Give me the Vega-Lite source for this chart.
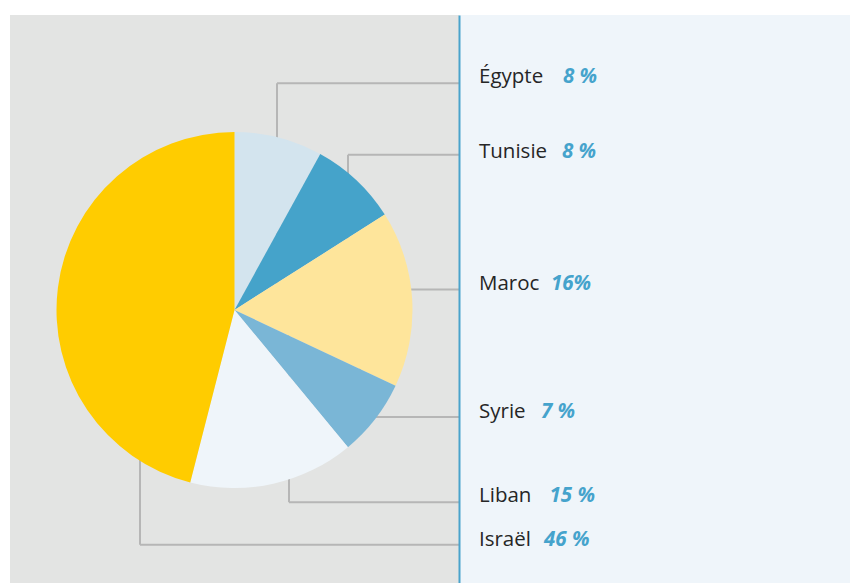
{
  "$schema": "https://vega.github.io/schema/vega-lite/v6.json",
  "background": "#ffffff",
  "padding": {"left": 10, "top": 15, "right": 0, "bottom": 0},
  "spacing": 0,
  "bounds": "flush",
  "config": {"view": {"stroke": null}, "font": "Open Sans"},
  "datasets": {
    "parts": [
      {"pays": "Égypte", "part": 8, "etiquette": "8 %"},
      {"pays": "Tunisie", "part": 8, "etiquette": "8 %"},
      {"pays": "Maroc", "part": 16, "etiquette": "16%"},
      {"pays": "Syrie", "part": 7, "etiquette": "7 %"},
      {"pays": "Liban", "part": 15, "etiquette": "15 %"},
      {"pays": "Israël", "part": 46, "etiquette": "46 %"}
    ]
  },
  "hconcat": [
    {
      "width": 449,
      "height": 590,
      "view": {"fill": "#e3e4e3", "stroke": null},
      "data": {"name": "parts"},
      "transform": [
        {"window": [{"op": "row_number", "as": "rang"}]},
        {"calculate": "[277, 348, 380, 360, 289, 140][datum.rang - 1]", "as": "lx"},
        {"calculate": "[83.3, 154.7, 289.5, 417, 502.3, 544.7][datum.rang - 1]", "as": "ly"}
      ],
      "layer": [
        {
          "mark": {"type": "rule", "color": "#b6b6b6", "strokeWidth": 2},
          "encoding": {
            "x": {"field": "lx", "type": "quantitative", "scale": {"domain": [10, 459], "nice": false, "zero": false}, "axis": null},
            "y": {"field": "ly", "type": "quantitative", "scale": {"domain": [15, 605], "reverse": true, "nice": false, "zero": false}, "axis": null},
            "y2": {"datum": 310}
          }
        },
        {
          "mark": {"type": "rule", "color": "#b6b6b6", "strokeWidth": 2},
          "encoding": {
            "x": {"field": "lx", "type": "quantitative"},
            "x2": {"datum": 459},
            "y": {"field": "ly", "type": "quantitative"}
          }
        },
        {
          "mark": {"type": "arc", "outerRadius": 178, "strokeWidth": 0},
          "encoding": {
            "theta": {"field": "part", "type": "quantitative", "stack": true},
            "order": {"field": "rang", "type": "quantitative"},
            "color": {
              "field": "pays", "type": "nominal", "legend": null,
              "scale": {
                "domain": ["Égypte", "Tunisie", "Maroc", "Syrie", "Liban", "Israël"],
                "range": ["#d3e4ee", "#45a3ca", "#fee59b", "#7ab6d6", "#eff5fa", "#ffcc00"]
              }
            }
          }
        }
      ]
    },
    {
      "width": 391,
      "height": 590,
      "view": {"fill": "#eff5fa", "stroke": null},
      "data": {"name": "parts"},
      "transform": [
        {"window": [{"op": "row_number", "as": "rang"}]},
        {"calculate": "[82.5, 158, 289.5, 417.5, 502.3, 545.5][datum.rang - 1]", "as": "ty"},
        {"calculate": "[563, 562, 551, 541, 549.5, 544][datum.rang - 1]", "as": "px"}
      ],
      "layer": [
        {
          "mark": {"type": "text", "align": "left", "baseline": "alphabetic", "fontSize": 20.5, "color": "#262626", "font": "Open Sans"},
          "encoding": {
            "x": {"datum": 479, "type": "quantitative", "scale": {"domain": [459, 850], "nice": false, "zero": false}, "axis": null},
            "y": {"field": "ty", "type": "quantitative", "scale": {"domain": [15, 605], "reverse": true, "nice": false, "zero": false},
                  "axis": {"orient": "left", "domainColor": "#4aa3cc", "domainWidth": 2, "ticks": false, "labels": false, "grid": false, "title": null}},
            "text": {"field": "pays"}
          }
        },
        {
          "mark": {"type": "text", "align": "left", "baseline": "alphabetic", "fontSize": 20.5, "fontStyle": "italic", "fontWeight": "bold", "color": "#45a3cc", "font": "Open Sans"},
          "encoding": {
            "x": {"field": "px", "type": "quantitative"},
            "y": {"field": "ty", "type": "quantitative"},
            "text": {"field": "etiquette"}
          }
        }
      ]
    }
  ]
}
